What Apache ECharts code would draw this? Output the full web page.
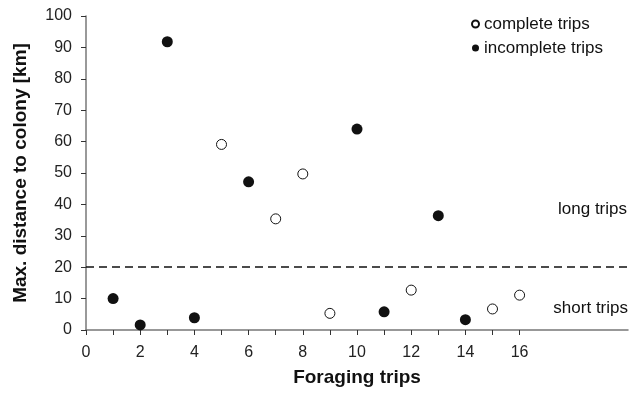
<!DOCTYPE html>
<html>
<head>
<meta charset="utf-8">
<script src="https://cdn.jsdelivr.net/npm/echarts@6.0.0/dist/echarts.min.js"></script>
<style>
  html, body { margin: 0; padding: 0; background: #fff; }
  #grafico { width: 630px; height: 393px; }
</style>
</head>
<body>
<div id="grafico"></div>
<script>
// trips and max distance (km)
const viajesCompletos = [5, 7, 8, 9, 12, 15, 16];
const distCompletos = [59.1, 35.4, 49.7, 5.3, 12.7, 6.7, 11.1];
const viajesIncompletos = [1, 2, 3, 4, 6, 10, 11, 13, 14];
const distIncompletos = [10.0, 1.6, 91.8, 3.9, 47.2, 64.0, 5.8, 36.4, 3.3];
const umbralLargo = 20;
const xTicks = [0, 1, 2, 3, 4, 5, 6, 7, 8, 9, 10, 11, 12, 13, 14, 15, 16];
const xTickLabels = [0, 2, 4, 6, 8, 10, 12, 14, 16];

const fuente = "'Liberation Sans', Arial, Helvetica, sans-serif";

const chart = echarts.init(document.getElementById('grafico'));

const option = {
  animation: false,
  grid: {
    left: 86,
    right: 2,
    top: 16,
    bottom: 63,
    outerBoundsMode: 'none'
  },
  legend: {
    orient: 'vertical',
    left: 466,
    top: 9,
    itemWidth: 7,
    itemHeight: 7,
    itemGap: 4,
    icon: 'circle',
    textStyle: {
      fontFamily: fuente,
      fontSize: 17,
      lineHeight: 20,
      color: '#111'
    },
    data: ['complete trips', 'incomplete trips']
  },
  xAxis: {
    type: 'value',
    min: 0,
    max: 20,
    interval: 1,
    name: 'Foraging trips',
    nameLocation: 'middle',
    nameGap: 38,
    nameTextStyle: {
      fontFamily: fuente,
      fontSize: 19,
      fontWeight: 'bold',
      color: '#111'
    },
    axisLine: { show: true, lineStyle: { color: '#777', width: 1.5 } },
    axisTick: {
      show: true,
      length: 5,
      customValues: xTicks,
      lineStyle: { color: '#333', width: 1 }
    },
    axisLabel: {
      customValues: xTickLabels,
      margin: 15,
      fontFamily: fuente,
      fontSize: 16,
      color: '#222'
    },
    splitLine: { show: false }
  },
  yAxis: {
    type: 'value',
    min: 0,
    max: 100,
    interval: 10,
    name: 'Max. distance to colony [km]',
    nameLocation: 'middle',
    nameGap: 56,
    nameTextStyle: {
      fontFamily: fuente,
      fontSize: 19,
      fontWeight: 'bold',
      color: '#111'
    },
    axisLine: { show: true, lineStyle: { color: '#777', width: 1.5 } },
    axisTick: { show: true, length: 5, lineStyle: { color: '#333', width: 1 } },
    axisLabel: {
      margin: 14,
      fontFamily: fuente,
      fontSize: 16,
      color: '#222'
    },
    splitLine: { show: false }
  },
  series: [
    {
      name: 'complete trips',
      type: 'scatter',
      symbol: 'circle',
      symbolSize: 10,
      itemStyle: { color: '#fff', borderColor: '#111', borderWidth: 1, opacity: 1 },
      data: viajesCompletos.map((x, i) => [x, distCompletos[i]]),
      markLine: {
        silent: true,
        symbol: 'none',
        label: { show: false },
        lineStyle: { color: '#111', width: 1.5, type: [8, 5] },
        data: [{ yAxis: umbralLargo }]
      }
    },
    {
      name: 'incomplete trips',
      type: 'scatter',
      symbol: 'circle',
      symbolSize: 11,
      itemStyle: { color: '#111', opacity: 1 },
      data: viajesIncompletos.map((x, i) => [x, distIncompletos[i]])
    }
  ],
  graphic: [
    {
      type: 'text',
      right: 3,
      top: 201,
      style: { text: 'long trips', font: '17px ' + fuente, fill: '#111' }
    },
    {
      type: 'text',
      right: 2,
      top: 300,
      style: { text: 'short trips', font: '17px ' + fuente, fill: '#111' }
    }
  ]
};

chart.setOption(option);
</script>
</body>
</html>
